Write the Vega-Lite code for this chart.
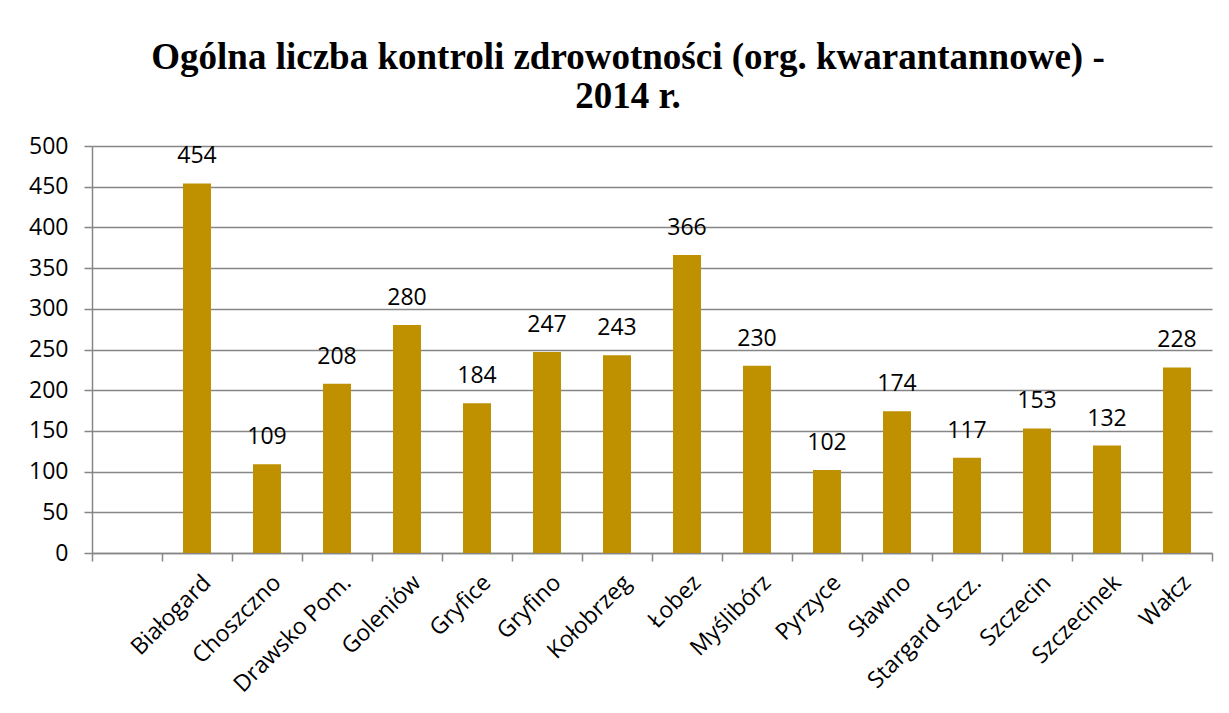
{
  "$schema": "https://vega.github.io/schema/vega-lite/v6.json",
  "autosize": "none",
  "width": 1120,
  "height": 407,
  "padding": {"left": 92, "top": 146, "right": 17, "bottom": 160},
  "background": "white",
  "title": {
    "text": ["Ogólna liczba kontroli zdrowotności (org. kwarantannowe) -", "2014 r."],
    "font": "Liberation Serif",
    "fontSize": 37,
    "fontWeight": "bold",
    "color": "#000000",
    "anchor": "middle",
    "frame": "group",
    "dx": -24,
    "lineHeight": 39,
    "offset": 19
  },
  "data": {
    "values": [
      {"city": "Białogard", "value": 454},
      {"city": "Choszczno", "value": 109},
      {"city": "Drawsko Pom.", "value": 208},
      {"city": "Goleniów", "value": 280},
      {"city": "Gryfice", "value": 184},
      {"city": "Gryfino", "value": 247},
      {"city": "Kołobrzeg", "value": 243},
      {"city": "Łobez", "value": 366},
      {"city": "Myślibórz", "value": 230},
      {"city": "Pyrzyce", "value": 102},
      {"city": "Sławno", "value": 174},
      {"city": "Stargard Szcz.", "value": 117},
      {"city": "Szczecin", "value": 153},
      {"city": "Szczecinek", "value": 132},
      {"city": "Wałcz", "value": 228}
    ]
  },
  "encoding": {
    "x": {
      "field": "city",
      "type": "nominal",
      "sort": null,
      "scale": {
        "domain": [" ", "Białogard", "Choszczno", "Drawsko Pom.", "Goleniów", "Gryfice", "Gryfino", "Kołobrzeg", "Łobez", "Myślibórz", "Pyrzyce", "Sławno", "Stargard Szcz.", "Szczecin", "Szczecinek", "Wałcz"],
        "paddingInner": 0.6,
        "paddingOuter": 0.3
      },
      "axis": {
        "title": null,
        "labelAngle": -45,
        "labelFont": "Open Sans",
        "labelFontSize": 23,
        "labelColor": "#000000",
        "labelPadding": 10,
        "labelOffset": 23,
        "domainColor": "#868686",
        "domainWidth": 1.5,
        "tickColor": "#868686",
        "tickWidth": 1.5,
        "tickSize": 8,
        "bandPosition": 2.5,
        "tickExtra": true,
        "tickOffset": -21,
        "grid": false
      }
    },
    "y": {
      "field": "value",
      "type": "quantitative",
      "scale": {"domain": [0, 500], "nice": false},
      "axis": {
        "title": null,
        "values": [0, 50, 100, 150, 200, 250, 300, 350, 400, 450, 500],
        "labelFont": "Open Sans",
        "labelFontSize": 23,
        "labelColor": "#000000",
        "labelPadding": 16,
        "domainColor": "#868686",
        "domainWidth": 1.5,
        "tickColor": "#868686",
        "tickWidth": 1.5,
        "tickSize": 8,
        "grid": true,
        "gridColor": "#868686",
        "gridWidth": 1.5
      }
    }
  },
  "layer": [
    {"mark": {"type": "bar", "color": "#BF9000"}},
    {
      "mark": {"type": "text", "baseline": "alphabetic", "dy": -20, "font": "Open Sans", "fontSize": 23, "color": "#000000"},
      "encoding": {"text": {"field": "value", "type": "quantitative"}}
    }
  ],
  "config": {"view": {"stroke": null}}
}
